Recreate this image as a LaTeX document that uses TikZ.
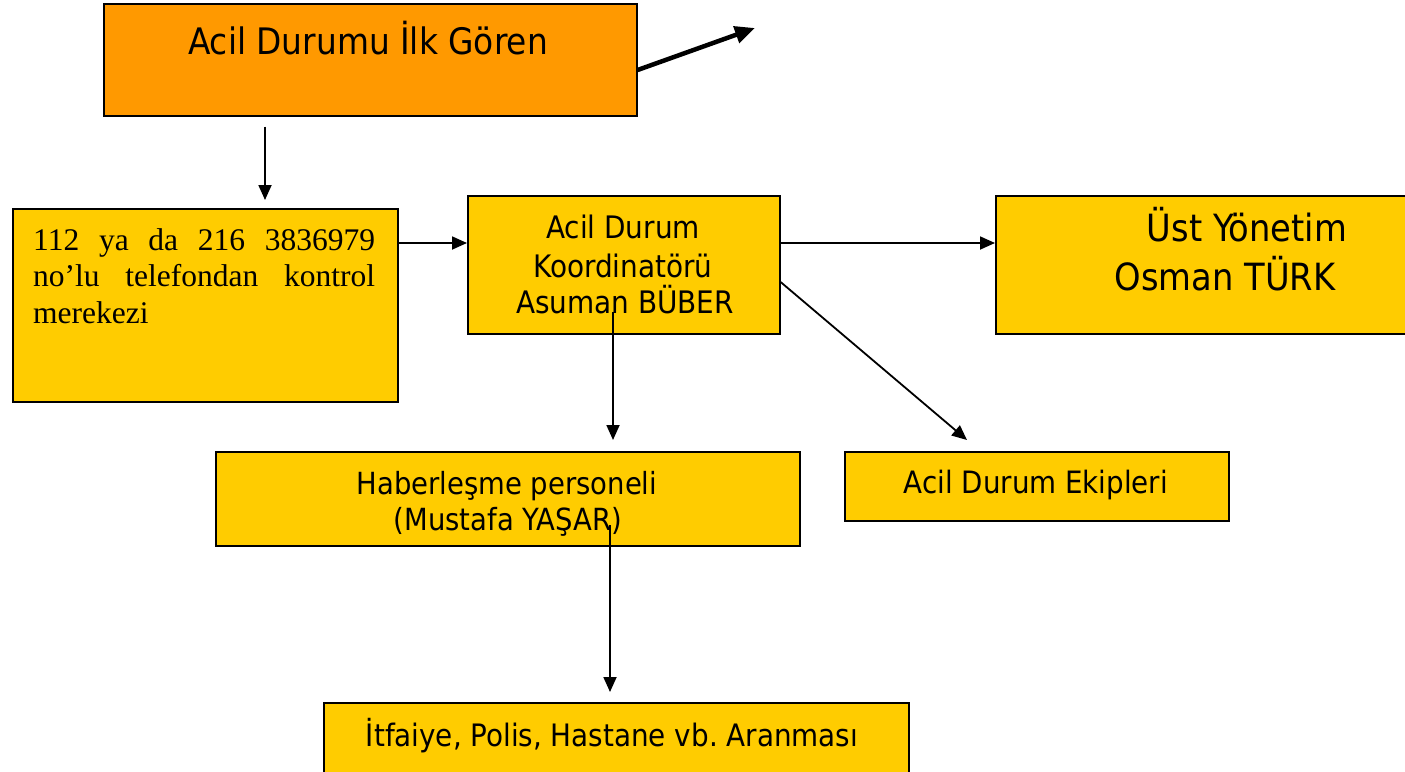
\documentclass[tikz,border=0pt]{standalone}
\usepackage{fontspec}
\setmainfont{Liberation Serif}
\newfontfamily\tah{DejaVu Sans Condensed}
\usetikzlibrary{arrows.meta,calc}
\definecolor{orangebox}{HTML}{FF9900}
\definecolor{yellowbox}{HTML}{FFCC00}
\frenchspacing
\begin{document}
\begin{tikzpicture}[x=1pt,y=-1pt,
  box/.style={draw=black,line width=1.6pt,inner sep=0pt,anchor=north west},
  ybox/.style={box,fill=yellowbox},
  arr/.style={line width=1.8pt,-{Triangle[length=15pt,width=13pt]}},
  bigarr/.style={line width=4.5pt,-{Triangle[length=20pt,width=17pt]}},
  lbl/.style={anchor=base,inner sep=0pt,font=\tah}]
\useasboundingbox (0,0) rectangle (1405,771);
% boxes
\node[box,fill=orangebox,minimum width=533pt,minimum height=112pt] (orange) at (103,3) {};
\node[ybox,minimum width=385pt,minimum height=193pt] (phone) at (12,208) {};
\node[ybox,minimum width=312pt,minimum height=138pt] (koord) at (467,195) {};
\node[ybox,minimum width=420pt,minimum height=138pt] (ust) at (995,195) {};
\node[ybox,minimum width=584pt,minimum height=94pt] (haber) at (215,451) {};
\node[ybox,minimum width=384pt,minimum height=69pt] (ekip) at (844,451) {};
\node[ybox,minimum width=585pt,minimum height=90pt] (itf) at (323,702) {};
% texts
\node[lbl] (t1) at (368,54) {\fontsize{36.5}{40}\selectfont Acil Durumu İlk Gören};
\node[anchor=base west,inner sep=0pt] (t2) at (33,250) {\parbox[t]{342pt}{\fontsize{31.5}{36.5}\selectfont
  \makebox[342pt][s]{112 ya da 216 3836979}\\
  \makebox[342pt][s]{no’lu telefondan kontrol}\\
  merekezi}};
\node[lbl] (k1) at (623,238) {\fontsize{31}{34}\selectfont Acil Durum};
\node[lbl] (k2) at (623,277) {\fontsize{31}{34}\selectfont Koordinatörü};
\node[lbl] (k3) at (625,313) {\fontsize{31}{34}\selectfont Asuman BÜBER};
\node[lbl] (u1) at (1247,241) {\fontsize{37.5}{40}\selectfont Üst Yönetim};
\node[lbl] (u2) at (1225,290) {\fontsize{37.5}{40}\selectfont Osman TÜRK};
\node[lbl] (h1) at (507,494) {\fontsize{30.5}{34}\selectfont Haberleşme personeli};
\node[lbl] (h2) at (508,530) {\fontsize{30.5}{34}\selectfont (Mustafa YAŞAR)};
\node[lbl] (e1) at (1036,493) {\fontsize{30.8}{34}\selectfont Acil Durum Ekipleri};
\node[lbl] (i1) at (612,746) {\fontsize{30.9}{34}\selectfont İtfaiye, Polis, Hastane vb. Aranması};
% connectors
\coordinate (free) at (755,28);
\draw[bigarr] ($(orange.north east)+(0,67)$) -- (free);
\draw[arr] ($(orange.south west)+(162,10)$) coordinate (a1) -- ($(a1 |- phone.north)+(0,-8)$);
\draw[arr] ($(phone.north east)+(0,35)$) coordinate (a2) -- (a2 -| koord.west);
\draw[arr] ($(koord.north east)+(0,48)$) coordinate (a3) -- (a3 -| ust.west);
\draw[arr] ($(koord.south west)+(146,-23)$) coordinate (a4) -- ($(a4 |- haber.north)+(0,-11)$);
\draw[arr] ($(koord.north east)+(0,87)$) -- ($(ekip.north west)+(123,-11)$);
\draw[arr] ($(haber.north west)+(395,74)$) coordinate (a5) -- ($(a5 |- itf.north)+(0,-10)$);
\end{tikzpicture}
\end{document}
